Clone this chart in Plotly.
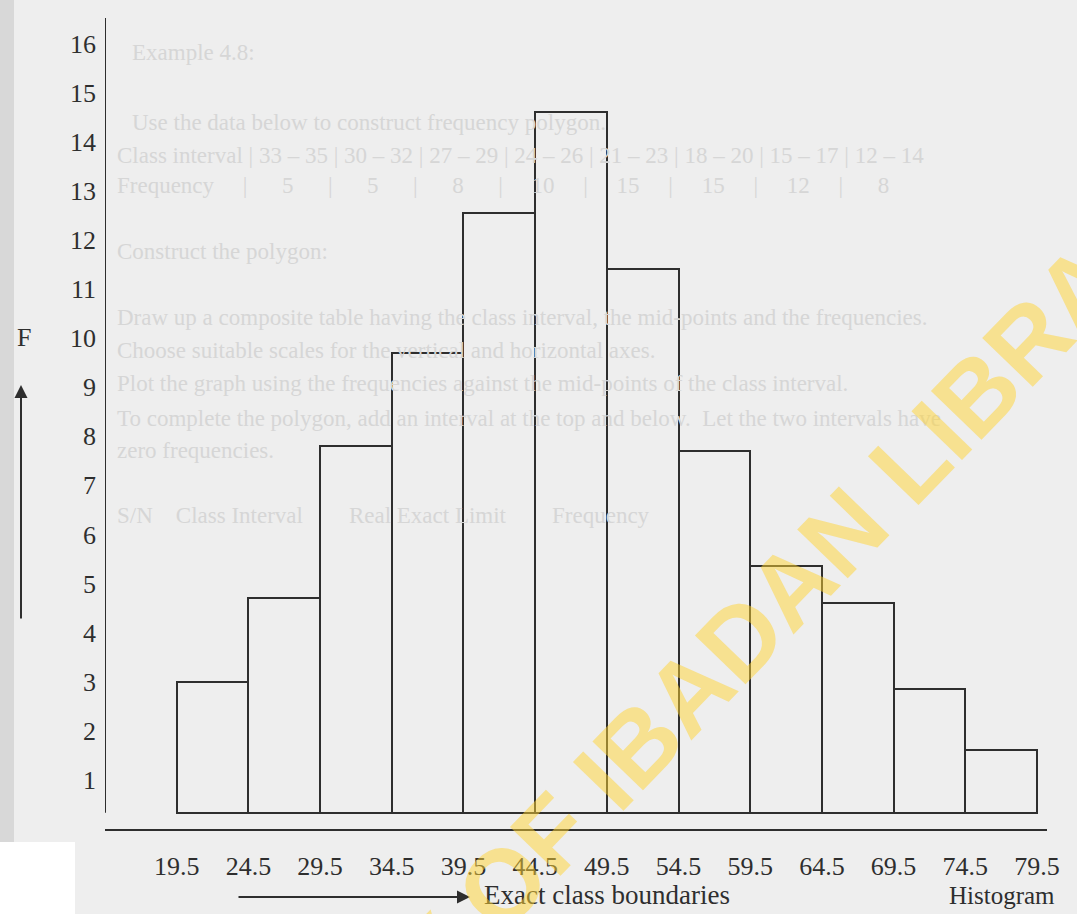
import plotly.graph_objects as go

# ---- data ----
boundaries = [19.5, 24.5, 29.5, 34.5, 39.5, 44.5, 49.5, 54.5, 59.5, 64.5, 69.5, 74.5, 79.5]
frequency = [3.0, 4.7, 7.8, 9.7, 12.55, 14.6, 11.4, 7.7, 5.35, 4.6, 2.85, 1.6]
y_ticks = list(range(1, 17))
x_tick_labels = [f"{b:.1f}" for b in boundaries]

# ---- geometry / style ----
W, H = 1077, 914
ML, MR, MT, MB = 105, 30, 18, 85
PW, PH = W - ML - MR, H - MT - MB
X_RANGE = [14.5, 80.2]
Y_RANGE = [0, 16.52]
BAR_BASE = 0.33          # bars are drawn slightly above the x-axis line
INK = "#2e2e2e"
SERIF = "Liberation Serif, Times New Roman, serif"
BG = "#eeeeee"


def px(x):
    return (x - ML) / PW


def py(y):
    return (H - MB - y) / PH


mids = [(a + b) / 2 for a, b in zip(boundaries[:-1], boundaries[1:])]
widths = [b - a for a, b in zip(boundaries[:-1], boundaries[1:])]

fig = go.Figure()
fig.add_trace(go.Bar(
    x=mids,
    y=[f - BAR_BASE for f in frequency],
    base=BAR_BASE,
    width=widths,
    marker=dict(color="rgba(0,0,0,0)", line=dict(color=INK, width=2)),
    hoverinfo="skip",
    showlegend=False,
))

# faint bleed-through text of the scanned page
faint = "#d6d6d6"
bleed = [
    (130, 52, "Example 4.8:"),
    (130, 122, "Use the data below to construct frequency polygon."),
    (115, 155, "Class interval | 33 – 35 | 30 – 32 | 27 – 29 | 24 – 26 | 21 – 23 | 18 – 20 | 15 – 17 | 12 – 14"),
    (115, 185, "Frequency     |      5      |      5      |      8      |     10     |     15     |     15     |     12     |      8"),
    (115, 252, "Construct the polygon:"),
    (115, 318, "Draw up a composite table having the class interval, the mid-points and the frequencies."),
    (115, 350, "Choose suitable scales for the vertical and horizontal axes."),
    (115, 383, "Plot the graph using the frequencies against the mid-points of the class interval."),
    (115, 418, "To complete the polygon, add an interval at the top and below.  Let the two intervals have"),
    (115, 450, "zero frequencies."),
    (115, 515, "S/N    Class Interval        Real Exact Limit        Frequency"),
]
annotations = []
for x0, y0, t in bleed:
    annotations.append(dict(
        x=px(x0), y=py(y0), xref="paper", yref="paper", text=t, showarrow=False,
        xanchor="left", yanchor="middle",
        font=dict(family=SERIF, size=23, color=faint),
    ))

# axis captions
annotations += [
    dict(x=px(24), y=py(338), xref="paper", yref="paper", text="F", showarrow=False,
         xanchor="center", yanchor="middle", font=dict(family=SERIF, size=26, color=INK)),
    dict(x=px(21), y=py(385), xref="paper", yref="paper", text="", showarrow=True,
         ax=0, ay=235, arrowhead=2, arrowsize=1.3, arrowwidth=2, arrowcolor=INK),
    dict(x=px(470), y=py(897), xref="paper", yref="paper", text="", showarrow=True,
         ax=-233, ay=0, arrowhead=2, arrowsize=1.3, arrowwidth=2, arrowcolor=INK),
    dict(x=px(482), y=py(895), xref="paper", yref="paper", text="Exact class boundaries",
         showarrow=False, xanchor="left", yanchor="middle",
         font=dict(family=SERIF, size=27, color=INK)),
    dict(x=px(1057), y=py(895), xref="paper", yref="paper", text="Histogram",
         showarrow=False, xanchor="right", yanchor="middle",
         font=dict(family=SERIF, size=25, color=INK)),
    # library watermark
    dict(x=px(616), y=py(768), xref="paper", yref="paper",
         text="<b>UNIVERSITY OF IBADAN LIBRARY</b>", showarrow=False,
         xanchor="center", yanchor="middle", textangle=-46,
         font=dict(family="Liberation Sans, Arial, sans-serif", size=102,
                   color="rgba(255,212,50,0.5)")),
]

shapes = [
    # white unscanned corner
    dict(type="rect", xref="paper", yref="paper", x0=px(0), x1=px(75), y0=py(914), y1=py(842),
         fillcolor="white", line=dict(width=0), layer="below"),
    # darker left strip of the scan
    dict(type="rect", xref="paper", yref="paper", x0=px(0), x1=px(14), y0=py(842), y1=py(0),
         fillcolor="#d8d8d8", line=dict(width=0), layer="below"),
    # vertical axis line (stops at the bar base)
    dict(type="line", xref="x", yref="y", x0=X_RANGE[0], x1=X_RANGE[0],
         y0=BAR_BASE, y1=Y_RANGE[1], line=dict(color=INK, width=2)),
]

fig.update_layout(
    width=W, height=H,
    margin=dict(l=ML, r=MR, t=MT, b=MB),
    paper_bgcolor=BG, plot_bgcolor="rgba(0,0,0,0)",
    annotations=annotations, shapes=shapes,
    bargap=0,
    showlegend=False,
)
fig.update_xaxes(
    range=X_RANGE, tickvals=boundaries, ticktext=x_tick_labels,
    showline=True, linecolor=INK, linewidth=2, ticks="", showgrid=False, zeroline=False,
    tickfont=dict(family=SERIF, size=26, color=INK), ticklabelstandoff=13,
)
fig.update_yaxes(
    range=Y_RANGE, tickvals=y_ticks, ticktext=[str(v) for v in y_ticks],
    showline=False, ticks="", showgrid=False, zeroline=False,
    tickfont=dict(family=SERIF, size=26, color=INK), ticklabelstandoff=8,
)

fig.write_html(
    "out.html",
    config={"displayModeBar": False},
    post_script="document.body.style.margin='0';document.body.style.overflow='hidden';",
)
